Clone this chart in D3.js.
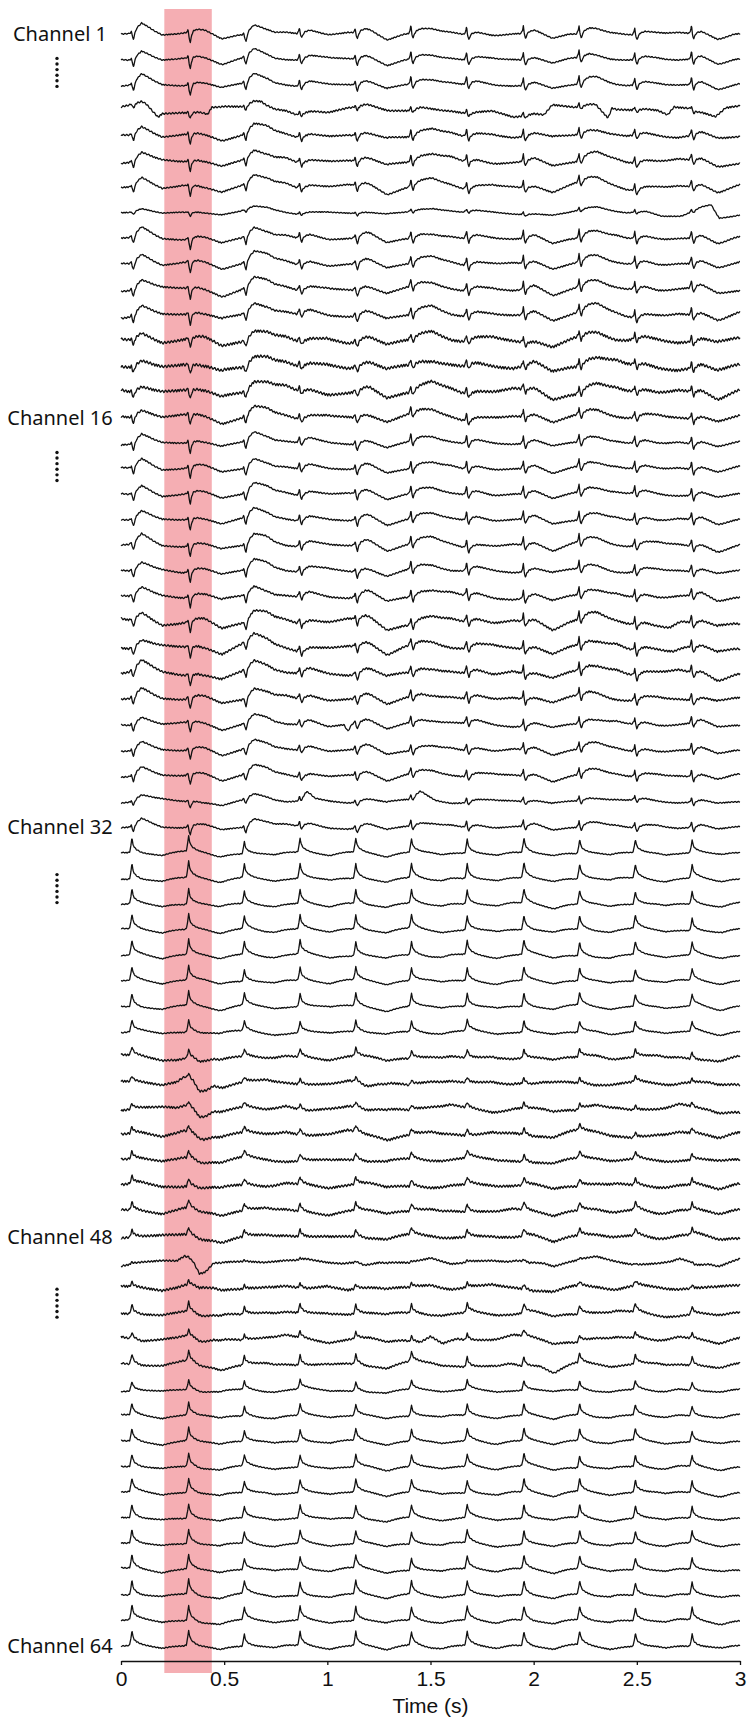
<!DOCTYPE html>
<html>
<head>
<meta charset="utf-8">
<script src="https://cdn.jsdelivr.net/npm/d3@7"></script>
<style>
  body { margin: 0; background: #fff; }
  svg text { fill: #111; }
</style>
</head>
<body>
<svg id="chart" width="751" height="1722"></svg>
<script>
// ---- data ----
// fetal R-peak times (s)
const beatTimes = [0.05, 0.325, 0.595, 0.865, 1.135, 1.405, 1.675, 1.95, 2.22, 2.49, 2.765];
// maternal complex times (s) and strength of each QRS
const maternalTimes = [0.35, 1.15, 1.95, 2.75];
const maternalQrsScale = [1, 0.25, 0.25, 0.3];

// upper leads (ch 1-32): per-beat R up-stroke, S down-stroke, T hump (px)
const topSpike = [2, 3, 2, 6, 4, 8, 8, 8, 8, 7, 8];
const topDip   = [6, 10, 7, 4, 6, 5, 5, 5, 5, 5, 5];
const topHump  = [10, 4, 9, 4, 5, 3, 3, 3, 4, 3, 3];
// lower leads (ch 33-64): per-beat relative peak height
const lowPeak  = [1, 1.05, 0.85, 0.95, 0.95, 0.9, 0.95, 1, 0.95, 0.9, 0.85];

// waveform shapes [dt (s), level]
const shapeR = [[-0.012, 0], [-0.004, 0.4], [0, 1], [0.005, 0.2], [0.01, 0]];
const shapeS = [[0, 0], [0.006, 0.6], [0.011, 1], [0.018, 0.3], [0.026, 0]];
const shapeT = [[0.01, 0], [0.03, 0.6], [0.05, 1], [0.08, 0.7], [0.11, 0.35], [0.15, 0]];
const shapeB = [[-0.02, 0], [-0.008, 0.05], [-0.002, 0.5], [0.003, 1], [0.008, 0.6], [0.014, 0.4],
                [0.025, 0.25], [0.045, 0.1], [0.07, 0], [0.11, -0.1], [0.15, -0.18], [0.19, -0.06], [0.23, 0]];
const shapeMQ = [[-0.08, 0], [-0.04, 0.5], [0, 0], [0.03, -1], [0.06, -0.8], [0.1, 0]];
const shapeMS = [[0.06, 0], [0.14, -1], [0.22, 0]];
const shapeMT = [[0.22, 0], [0.3, 0.6], [0.36, 1], [0.44, 0.5], [0.5, 0]];

// per channel (index 0 = channel 1)
const leadType = ('A'.repeat(32) + 'B'.repeat(32)).split('');
const fetalGain = [
  1, 1, 1, 0.5, 0.9, 0.9, 0.9, 0.35, 1, 1, 1, 1, 0.8, 0.8, 0.8, 0.9,
  1, 1, 1, 1, 1, 1, 1, 1, 1, 1, 1, 0.9, 0.9, 0.9, 0.6, 0.8,
  15, 16, 15, 15, 15, 14, 14, 12, 9, 6, 6, 7, 8, 8, 9, 8,
  2, 5, 10, 7, 11, 10, 12, 13, 13, 14, 14, 14, 14, 15, 15, 15
];
const rippleAmp = [
  0.5, 0.5, 0.5, 0.8, 0.7, 0.7, 0.6, 0.4, 0.6, 0.6, 0.7, 0.8, 1.2, 1.3, 1.2, 0.9,
  0.6, 0.6, 0.6, 0.6, 0.6, 0.6, 0.7, 0.9, 0.9, 0.9, 0.8, 0.6, 0.6, 0.6, 0.5, 0.5,
  0.4, 0.4, 0.4, 0.4, 0.4, 0.4, 0.4, 0.5, 0.9, 1.0, 1.0, 1.1, 1.0, 1.1, 1.0, 1.1,
  0.8, 1.1, 0.9, 0.9, 0.8, 0.5, 0.5, 0.5, 0.5, 0.5, 0.5, 0.5, 0.5, 0.5, 0.5, 0.5
];
const wanderAmp = [
  1, 1, 1, 2, 1.5, 1.5, 1.5, 1, 1, 1, 1.5, 1.5, 2, 2, 2, 1.5,
  1, 1, 1, 1, 1.5, 1.5, 1.5, 2, 2, 2, 1.5, 1.5, 1, 1, 1.5, 1,
  0.8, 0.8, 0.8, 0.8, 0.8, 0.8, 1, 1, 1.5, 2, 2, 2, 1.5, 1.5, 1.5, 1.5,
  2, 2, 1.5, 2, 1.5, 1, 0.8, 0.8, 0.8, 0.8, 0.8, 0.8, 0.8, 0.8, 0.8, 0.8
];
const matQrs = [
  1, 1, 1, 0, 1, 1, 1, 0, 1, 1, 1, 1, 1, 1, 1, 1,
  1, 1, 1, 1, 1, 1, 1, 1, 1, 1, 1, 1, 1, 1, 1, 1,
  0, 0, 0, 0, 0, 0, 0, 1, 4, 9, 7, 3, 2, 2, 2, 2,
  11, 3, 2, 3, 2, 1, 1, 1, 1, 1, 1, 1, 1, 1, 1, 1
];
const matDip = [
  5, 4, 4, 0, 3, 4, 5, 2, 5, 4, 4, 4, 5, 6, 6, 4,
  4, 4, 4, 4, 4, 4, 5, 6, 6, 5, 4, 4, 4, 4, 3, 3,
  1, 1, 1, 1, 1, 1, 1, 1, 2, 2, 2, 2, 2, 2, 2, 2,
  2, 2, 2, 2, 2, 1, 1, 1, 1, 1, 1, 1, 1, 1, 1, 1
];
const matHump = [
  2, 2, 5, 0, 6, 6, 7, 5, 5, 6, 6, 7, 7, 7, 7, 6,
  5, 5, 5, 5, 5, 5, 5, 5, 5, 5, 4, 4, 4, 4, 3, 3,
  0, 0, 0, 0, 0, 0, 0, 0, 1, 1, 1, 1, 1, 1, 1, 1,
  2, 1, 1, 1, 1, 0, 0, 0, 0, 0, 0, 0, 0, 0, 0, 0
];
// baseline wander for single channels: [t (s), px]
const driftCh4 = [[0, 0], [0.05, 3], [0.12, 2], [0.18, -6], [0.2, -1], [0.3, 2], [0.42, -5], [0.44, 2],
  [0.6, 3], [0.68, 7], [0.75, 1], [0.85, -5], [0.95, -1], [1.1, 2], [1.3, 0], [1.45, 3], [1.6, -2],
  [1.85, -3], [2.05, -6], [2.09, 4], [2.3, 3], [2.36, -7], [2.38, 4], [2.65, -6], [2.68, 3],
  [2.75, 4], [2.88, -5], [2.93, 3], [3, 3]];
const driftCh8 = [[0, 0], [2.55, 0], [2.62, -3], [2.72, -2], [2.86, 8], [2.9, -5], [3, -3]];
const driftCh24 = [[0, 0], [2.5, 0], [2.58, -4], [2.66, -6], [2.72, 0], [3, 0]];
const driftCh25 = [[0, 0], [2.52, 0], [2.6, -3], [2.68, -5], [2.74, 0], [3, 0]];
const driftCh28 = [[0, 0], [1.08, 0], [1.1, -7], [1.12, 0], [3, 0]];
const driftCh31 = [[0, 0], [0.86, 0], [0.9, 6], [0.94, 0], [1.4, 0], [1.45, 7], [1.52, 0], [3, 0]];
const driftCh52 = [[0, 0], [1.38, 0], [1.45, -5], [1.5, -1], [1.56, -6], [1.63, 0], [3, 0]];
const driftCh53 = [[0, 0], [1.88, 0], [1.96, -4], [2.03, -1], [2.1, -4], [2.2, 0], [3, 0]];
// mains ripple, one sample each 2 ms
const ripple = [0, 0.5, 0.9, 0.6, 0, -0.6, -0.9, -0.5, 0.1, 0.6, 1, 0.5, -0.1, -0.7, -0.8, -0.4,
  0, 0.4, 0.8, 0.7, 0.1, -0.5, -1, -0.6, -0.1, 0.5, 0.9, 0.5, 0, -0.5, -0.8, -0.6,
  0.1, 0.7, 0.9, 0.4, -0.2, -0.6, -0.9, -0.4, 0, 0.5, 1, 0.6, 0, -0.6, -0.9, -0.5, 0.2, 0.4,
  0.9, 0.3, -0.3, -1, -0.4, 0.2, 0.8, 0.6, -0.2, -0.9];
// slow baseline wander, one sample each 0.1 s
const wander = [0, 1, -1, 0.5, 2, 0, -1.5, -0.5, 1, 0, -1, 1.5, 0.5, -1, 0, 2, 1, -1, -2, 0,
  1, 0.5, -0.5, 1, 0, -1, 0.5, 1.5, 0, -1, 0, 0.8, -0.6, 1.2, -1.3, 0.4, 0.9];

const xTicks = [0, 0.5, 1, 1.5, 2, 2.5, 3];
const labelChannels = [1, 16, 32, 48, 64];
const dotRows = [2.5, 17.9, 34.4, 50.6];
const band = [0.21, 0.44];

// ---- drawing ----
const svg = d3.select('#chart');
const x = d3.scaleLinear().domain([0, 3]).range([121, 740]);
const rowY = d3.scaleLinear().domain([1, 64]).range([34, 1646]);
const amp = d3.scaleLinear().domain([-10, 10]).range([10, -10]);

const shapeScale = s => d3.scaleLinear().domain(s.map(d => d[0])).range(s.map(d => d[1])).clamp(true);
const fR = shapeScale(shapeR), fS = shapeScale(shapeS), fT = shapeScale(shapeT), fB = shapeScale(shapeB);
const fMQ = shapeScale(shapeMQ), fMS = shapeScale(shapeMS), fMT = shapeScale(shapeMT);
const drifts = {
  3: shapeScale(driftCh4), 7: shapeScale(driftCh8), 23: shapeScale(driftCh24), 24: shapeScale(driftCh25),
  27: shapeScale(driftCh28), 30: shapeScale(driftCh31), 51: shapeScale(driftCh52), 52: shapeScale(driftCh53)
};

// red highlight band
svg.append('rect')
  .attr('x', x(band[0]))
  .attr('width', x(band[1]) - x(band[0]))
  .attr('y', 9)
  .attr('height', 1673 - 9)
  .attr('fill', '#f5aeb3');

const step = 0.002;
const times = d3.range(0, 3 + step / 2, step);

function signal(c) {
  const shift = (c * 5) % wander.length;
  const wanderScale = d3.scaleLinear()
    .domain(wander.map((d, i) => i * 0.1))
    .range(wander.map((d, i) => wander[(i + shift) % wander.length]))
    .clamp(true);
  return times.map((t, k) => {
    let v = 0;
    beatTimes.forEach((b, i) => {
      const dt = t - b;
      if (dt < -0.05 || dt > 0.25) return;
      if (leadType[c] === 'A') {
        v += fetalGain[c] * (fR(dt) * topSpike[i] - fS(dt) * topDip[i] + fT(dt) * topHump[i]);
      } else {
        v += fetalGain[c] * lowPeak[i] * fB(dt);
      }
    });
    maternalTimes.forEach((m, j) => {
      const dt = t - m;
      if (dt < -0.1 || dt > 0.55) return;
      v += fMQ(dt) * matQrs[c] * maternalQrsScale[j] + fMS(dt) * matDip[c] + fMT(dt) * matHump[c];
    });
    if (drifts[c]) v += drifts[c](t);
    v += wanderScale(t) * wanderAmp[c];
    v += ripple[(k + c * 7) % ripple.length] * rippleAmp[c];
    return { t, v };
  });
}

const traces = svg.append('g')
  .attr('fill', 'none')
  .attr('stroke', '#111')
  .attr('stroke-width', 1.3)
  .attr('stroke-linejoin', 'round');

d3.range(64).forEach(c => {
  const line = d3.line()
    .x(d => x(d.t))
    .y(d => rowY(c + 1) + amp(d.v));
  traces.append('path').attr('d', line(signal(c)));
});

// channel labels
svg.append('g').selectAll('text')
  .data(labelChannels)
  .enter().append('text')
  .attr('x', 60)
  .attr('y', d => rowY(d))
  .attr('dy', '0.35em')
  .attr('text-anchor', 'middle')
  .style('font', '20px "Noto Sans", sans-serif')
  .text(d => 'Channel ' + d);

// vertical dots
dotRows.forEach(r => {
  svg.append('g').selectAll('circle')
    .data(d3.range(6))
    .enter().append('circle')
    .attr('cx', 57)
    .attr('cy', i => rowY(r) - 14 + i * 5.6)
    .attr('r', 1.7)
    .attr('fill', '#111');
});

// x axis
const axis = svg.append('g')
  .attr('transform', 'translate(0,1661)')
  .call(d3.axisBottom(x).tickValues(xTicks).tickFormat(d3.format('')).tickSize(4).tickSizeOuter(0).tickPadding(6));
axis.select('.domain').attr('stroke', '#111').attr('stroke-width', 1.3);
axis.selectAll('.tick line').attr('stroke', '#111').attr('stroke-width', 1.3);
axis.selectAll('.tick text').style('font', '21px "Liberation Sans", Arial, sans-serif').attr('fill', '#111');

svg.append('text')
  .attr('x', x(1.5))
  .attr('y', 1713)
  .attr('text-anchor', 'middle')
  .style('font', '21px "Liberation Sans", Arial, sans-serif')
  .text('Time (s)');
</script>
</body>
</html>
